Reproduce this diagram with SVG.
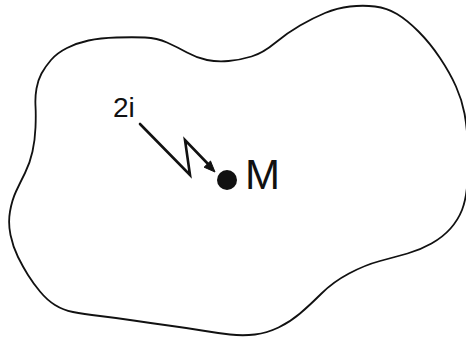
<svg xmlns="http://www.w3.org/2000/svg" width="466" height="346" viewBox="0 0 466 346">
<style>
.outline{fill:none;stroke:#111;stroke-width:1.8;stroke-linejoin:round}
.conn{fill:none;stroke:#111;stroke-width:2.6;stroke-linejoin:miter;stroke-linecap:round}
.lbl{font-family:"Liberation Sans",Arial,sans-serif;fill:#111}
</style>
<rect width="466" height="346" fill="#fff"/>
<g id="region">
<path class="outline" d="M32.5,151.5 Q35,140 35.5,127.5 Q36,115 35.5,106 Q35,97 36.5,88.5 Q38,80 41.5,73.5 Q45,67 51,60 Q57,53 67,48 Q77,43 88.5,40.5 Q100,38 116.5,37.5 Q133,37 145,37.5 Q157,38 167,42.5 Q177,47 187,52.5 Q197,58 207,60 Q217,62 228.5,61 Q240,60 251.5,56.5 Q263,53 275,43 Q287,33 300,25.5 Q313,18 325,13 Q337,8 350,6.5 Q363,5 375,6.5 Q387,8 397,14 Q407,20 418.5,31.5 Q430,43 440,58 Q450,73 456,86.5 Q462,100 464.5,113.5 Q467,127 468,146 Q469,165 467.5,182.5 Q466,200 462,210 Q458,220 450.5,228.5 Q443,237 431.5,243.5 Q420,250 407.5,253.5 Q395,257 380,261 Q365,265 349,273.5 Q333,282 321.5,293.5 Q310,305 300,313.5 Q290,322 278.5,327.5 Q267,333 255,334.5 Q243,336 230,334.5 Q217,333 202,330.5 Q187,328 168.5,325.5 Q150,323 133.5,320.5 Q117,318 100,316 Q83,314 73,312 Q63,310 55,305 Q47,300 40,291.5 Q33,283 28,275 Q23,267 18,257 Q13,247 10.5,235 Q8,223 10,211.5 Q12,200 16,191.5 Q20,183 25,173 Q30,163 32.5,151.5 Z"/>
</g>
<g id="connectors">
<path class="conn" d="M140,124 L190,175 L185,140 L209,165"/>
<path d="M215,172 L204.1,167.2 L210.5,161 Z" fill="#111" stroke="#111" stroke-width="1"/>
</g>
<g id="point-M">
<circle cx="227" cy="180" r="10" fill="#111"/>
<text class="lbl" x="245" y="189" font-size="42">M</text>
</g>
<g id="label-2i">
<text class="lbl" x="113" y="117" font-size="28">2i</text>
</g>
</svg>
